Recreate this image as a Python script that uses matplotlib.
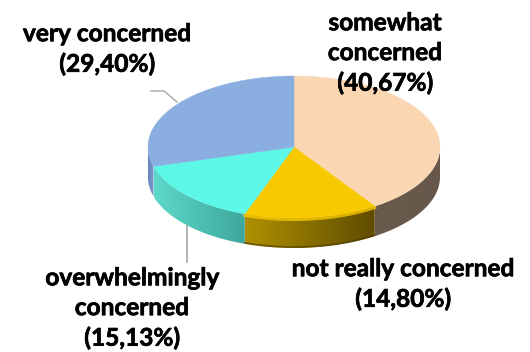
import numpy as np
import matplotlib
matplotlib.use('Agg')
import matplotlib.pyplot as plt
import matplotlib.patheffects as pe
from matplotlib.patches import Polygon

categorias = ['somewhat\nconcerned', 'not really concerned', 'overwhelmingly\nconcerned', 'very concerned']
valores = [40.67, 14.80, 15.13, 29.40]
colores_top = ['#fad7b2', '#f8c800', '#5cf7e6', '#8aaee0']
# side colours, left end and right end of each slice
colores_lado = [('#6b5b4c', '#66574a'), ('#b09000', '#5f4c00'), ('#5cd8c9', '#3ea79d'), ('#6484bb', '#7b9bd0')]

cx, cy = 294, 147
rx, ry = 146, 71
prof = 30

plt.rcParams['font.family'] = ['Lato', 'DejaVu Sans']
fig = plt.figure(figsize=(5.3, 3.52), dpi=100)
ax = fig.add_axes([0, 0, 1, 1])
ax.axis('off')


def borde(t):
    t = np.radians(t)
    return cx + rx * np.sin(t), cy - ry * np.cos(t)


def mezcla(c1, c2, f):
    a = np.array(matplotlib.colors.to_rgb(c1))
    b = np.array(matplotlib.colors.to_rgb(c2))
    return a + (b - a) * f


acum = np.concatenate([[0], np.cumsum(valores)]) * 360 / sum(valores)

# side of the disc, gradient image clipped to the slice
for i in range(len(valores)):
    ini, fin = max(acum[i], 90), min(acum[i + 1], 270)
    if fin <= ini:
        continue
    ts = np.linspace(ini, fin, 100)
    xs, ys = borde(ts)
    grad = np.array([[mezcla(colores_lado[i][0], colores_lado[i][1], f) for f in np.linspace(0, 1, 128)]])
    im = ax.imshow(grad, extent=(xs.min(), xs.max(), ys.max() + prof, ys.min()), aspect='auto',
                   interpolation='bilinear', zorder=2)
    contorno = Polygon(np.c_[np.r_[xs, xs[::-1]], np.r_[ys, ys[::-1] + prof]], closed=True,
                       transform=ax.transData, fc='none', ec='none')
    ax.add_patch(contorno)
    im.set_clip_path(contorno)
    if i == 1:
        # bright rim on the yellow slice
        ax.plot(xs, ys + 1.5, color='#f8c800', lw=2.2, alpha=0.8, zorder=3)
        ax.plot(xs, ys + prof - 1, color='#4f3f00', lw=1.2, alpha=0.7, zorder=3)

# top surface
for i in range(len(valores)):
    ts = np.linspace(acum[i], acum[i + 1], 120)
    xs, ys = borde(ts)
    ax.fill(np.r_[cx, xs], np.r_[cy, ys], color=colores_top[i], lw=0.3, zorder=4)

# leader lines
ax.plot([151, 164, 177], [91, 91, 102], color='#a6a6a6', lw=1, zorder=1)
ax.plot([186.5, 186.5], [226, 262], color='#a6a6a6', lw=1.2, zorder=1)

etiquetas = [f'{c}\n({str(f"{v:.2f}").replace(".", ",")}%)' for c, v in zip(categorias, valores)]
pos = [(385, 53), (403, 284), (132, 308), (107, 49)]
for txt, (x, y) in zip(etiquetas, pos):
    ax.text(x, y, txt, ha='center', va='center', fontsize=17.6, fontweight='bold',
            color='black', linespacing=1.36, zorder=5,
            path_effects=[pe.withStroke(linewidth=0.5, foreground='black')])

ax.set_xlim(0, 530)
ax.set_ylim(352, 0)
fig.savefig('out.png', dpi=100)
